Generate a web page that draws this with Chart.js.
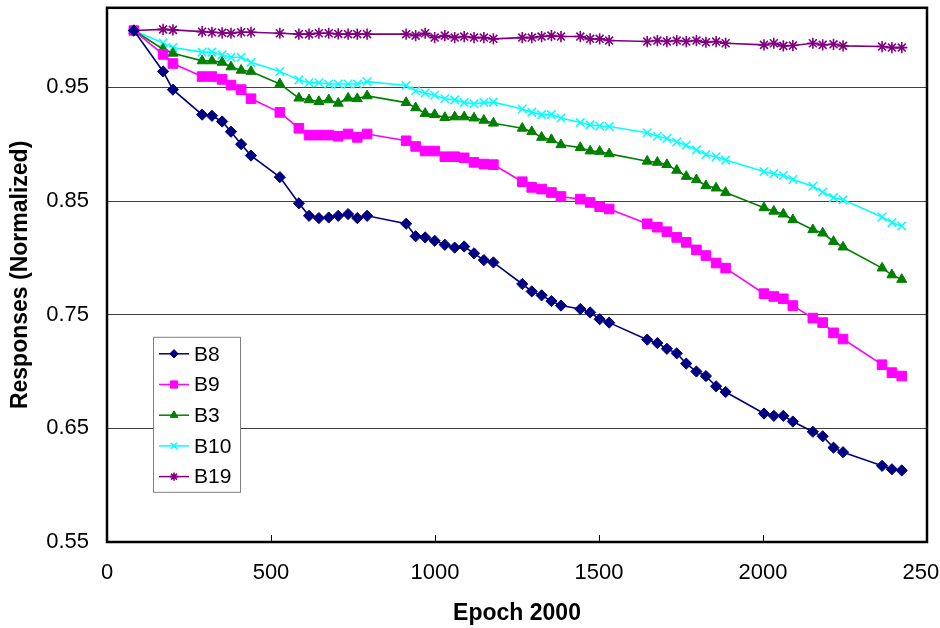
<!DOCTYPE html>
<html>
<head>
<meta charset="utf-8">
<script src="https://cdn.jsdelivr.net/npm/chart.js"></script>
<style>
    html, body { margin: 0; padding: 0; background: #fff; overflow: hidden; }
    #wrap { width: 960px; height: 628px; }
</style>
</head>
<body>
<div id="wrap"><canvas id="chart" width="960" height="628"></canvas></div>
<script>
// Données
const epochs = [82, 171, 201, 290, 320, 351, 378, 409, 439, 527, 585, 616, 646, 676, 705, 735, 763, 793,
    912, 941, 970, 999, 1030, 1060, 1089, 1119, 1149, 1178, 1266, 1295, 1325, 1355, 1384, 1443, 1473, 1502,
    1531, 1647, 1678, 1707, 1737, 1766, 1797, 1826, 1857, 1886, 2003, 2033, 2062, 2091, 2152, 2182, 2215,
    2244, 2363, 2393, 2423];

const b8 = [1.000, 0.964, 0.948, 0.926, 0.925, 0.920, 0.911, 0.900, 0.890, 0.871, 0.848, 0.837, 0.835, 0.8355,
    0.837, 0.8385, 0.835, 0.837, 0.830, 0.819, 0.818, 0.815, 0.8115, 0.809, 0.810, 0.804, 0.798, 0.796, 0.777,
    0.7705, 0.767, 0.762, 0.758, 0.755, 0.752, 0.746, 0.743, 0.728, 0.725, 0.720, 0.716, 0.707, 0.700, 0.696,
    0.687, 0.682, 0.663, 0.661, 0.661, 0.656, 0.647, 0.643, 0.633, 0.629, 0.617, 0.614, 0.613];

const b9 = [1.000, 0.979, 0.971, 0.9595, 0.9595, 0.957, 0.952, 0.948, 0.940, 0.928, 0.914, 0.908, 0.908, 0.908,
    0.907, 0.909, 0.906, 0.909, 0.903, 0.898, 0.894, 0.894, 0.889, 0.889, 0.888, 0.884, 0.8825, 0.882, 0.867,
    0.862, 0.8605, 0.8575, 0.854, 0.8517, 0.8487, 0.845, 0.843, 0.830, 0.827, 0.823, 0.818, 0.8136, 0.807, 0.802,
    0.7955, 0.791, 0.7685, 0.766, 0.764, 0.758, 0.747, 0.743, 0.734, 0.7286, 0.706, 0.699, 0.696];

const b3 = [1.000, 0.9836, 0.980, 0.9733, 0.9733, 0.972, 0.968, 0.965, 0.964, 0.953, 0.9405, 0.939, 0.9375, 0.939,
    0.936, 0.9405, 0.940, 0.9425, 0.9366, 0.932, 0.927, 0.926, 0.9234, 0.924, 0.924, 0.923, 0.921, 0.9185, 0.914,
    0.911, 0.906, 0.904, 0.8995, 0.897, 0.894, 0.8936, 0.8915, 0.885, 0.884, 0.882, 0.877, 0.8716, 0.8687, 0.8634,
    0.8614, 0.8575, 0.844, 0.841, 0.8385, 0.8335, 0.8247, 0.8218, 0.8144, 0.8095, 0.791, 0.785, 0.781];

const b10 = [1.000, 0.989, 0.985, 0.981, 0.981, 0.9786, 0.9765, 0.9765, 0.972, 0.964, 0.9566, 0.954, 0.954, 0.953,
    0.953, 0.953, 0.953, 0.955, 0.9516, 0.947, 0.945, 0.943, 0.940, 0.939, 0.9366, 0.9355, 0.9366, 0.937, 0.931,
    0.928, 0.926, 0.926, 0.923, 0.919, 0.917, 0.916, 0.9155, 0.910, 0.907, 0.905, 0.902, 0.899, 0.895, 0.891,
    0.889, 0.886, 0.876, 0.874, 0.8725, 0.869, 0.863, 0.858, 0.853, 0.851, 0.836, 0.831, 0.828];

const b19 = [1.000, 1.001, 1.0006, 0.999, 0.9985, 0.998, 0.9976, 0.9985, 0.9985, 0.9976, 0.9968, 0.9968, 0.9976,
    0.9976, 0.997, 0.9968, 0.9968, 0.9968, 0.9968, 0.9955, 0.9976, 0.9938, 0.9955, 0.9938, 0.9947, 0.9938, 0.9938,
    0.9927, 0.9938, 0.9938, 0.9947, 0.9955, 0.9947, 0.9947, 0.9927, 0.9927, 0.9912, 0.9903, 0.9912, 0.9903, 0.9912,
    0.9903, 0.9912, 0.9897, 0.9903, 0.9888, 0.9874, 0.9888, 0.9865, 0.9868, 0.9888, 0.9874, 0.9879, 0.9865, 0.9859,
    0.985, 0.985];

const yTicks = [0.55, 0.65, 0.75, 0.85, 0.95];
const xTicks = [0, 500, 1000, 1500, 2000, 2500];

const FONT = "'Liberation Sans', Arial, sans-serif";

// Construire une série
function makeSeries(label, values, color, style, radius, borderWidth) {
    return {
        label: label,
        data: values.map((v, i) => ({ x: epochs[i], y: v })),
        borderColor: color,
        backgroundColor: color,
        pointBackgroundColor: color,
        pointBorderColor: color,
        pointStyle: style,
        pointRadius: radius,
        pointBorderWidth: borderWidth,
        borderWidth: 1.6,
        tension: 0,
        fill: false
    };
}

// Cadre + petites graduations internes
const frame = {
    id: 'frame',
    afterDatasetsDraw(chart) {
        const { ctx, chartArea: a, scales } = chart;
        ctx.save();
        ctx.strokeStyle = '#000';
        ctx.lineWidth = 1;
        xTicks.forEach(v => {
            const px = Math.round(scales.x.getPixelForValue(v)) + 0.5;
            ctx.beginPath();
            ctx.moveTo(px, a.bottom);
            ctx.lineTo(px, a.bottom - 7);
            ctx.stroke();
        });
        ctx.lineWidth = 2.5;
        ctx.strokeRect(a.left, a.top, a.right - a.left, a.bottom - a.top);
        ctx.restore();
    }
};

// Légende à l'intérieur de la zone du graphique
const innerLegend = {
    id: 'innerLegend',
    afterDraw(chart) {
        const { ctx, chartArea: a } = chart;
        const x0 = a.left + 46, y0 = a.top + 329;
        ctx.save();
        ctx.fillStyle = '#fff';
        ctx.fillRect(x0, y0, 87, 155);
        ctx.strokeStyle = '#808080';
        ctx.lineWidth = 1;
        ctx.strokeRect(x0 + 0.5, y0 + 0.5, 87, 155);
        ctx.font = '21px ' + FONT;
        ctx.textBaseline = 'middle';
        chart.data.datasets.forEach((ds, i) => {
            const y = y0 + 17 + i * 30.7;
            ctx.strokeStyle = ds.borderColor;
            ctx.fillStyle = ds.borderColor;
            ctx.lineWidth = 1.5;
            ctx.beginPath();
            ctx.moveTo(x0 + 6, y);
            ctx.lineTo(x0 + 36, y);
            ctx.stroke();
            ctx.lineWidth = ds.pointBorderWidth;
            if (Chart.helpers && Chart.helpers.drawPoint) {
                Chart.helpers.drawPoint(ctx, {
                    pointStyle: ds.pointStyle,
                    radius: ds.pointRadius * 0.75,
                    borderWidth: ds.pointBorderWidth,
                    rotation: 0
                }, x0 + 21, y);
            }
            ctx.fillStyle = '#000';
            ctx.fillText(ds.label, x0 + 41, y + 1);
        });
        ctx.restore();
    }
};

new Chart(document.getElementById('chart'), {
    type: 'line',
    data: {
        datasets: [
            makeSeries('B8', b8, '#000080', 'rectRot', 5.6, 1),
            makeSeries('B9', b9, '#FF00FF', 'rect', 6.8, 1),
            makeSeries('B3', b3, '#008000', 'triangle', 5.8, 1),
            makeSeries('B10', b10, '#00FFFF', 'crossRot', 6, 1.5),
            makeSeries('B19', b19, '#800080', 'star', 5.6, 1.6)
        ]
    },
    options: {
        responsive: false,
        animation: false,
        devicePixelRatio: 1,
        layout: { padding: { left: 0, top: 7, right: 33, bottom: 0 } },
        plugins: {
            legend: { display: false },
            tooltip: { enabled: false }
        },
        scales: {
            x: {
                type: 'linear',
                min: 0,
                max: 2500,
                afterBuildTicks: s => { s.ticks = xTicks.map(v => ({ value: v })); },
                afterFit: s => { s.height = 86; s.paddingLeft = 0; s.paddingRight = 0; },
                grid: { display: false, drawTicks: false },
                border: { display: false },
                ticks: {
                    color: '#000',
                    padding: 18,
                    maxRotation: 0,
                    font: { family: FONT, size: 22 },
                    callback: v => String(v)
                },
                title: {
                    display: true,
                    text: 'Epoch 2000',
                    color: '#000',
                    font: { family: FONT, size: 23, weight: 'bold' },
                    padding: { top: 0, bottom: 1 }
                }
            },
            y: {
                min: 0.55,
                max: 1.02,
                afterBuildTicks: s => { s.ticks = yTicks.map(v => ({ value: v })); },
                afterFit: s => { s.width = 107; s.paddingTop = 0; s.paddingBottom = 0; },
                grid: { color: '#404040', lineWidth: 1, drawTicks: false },
                border: { display: false },
                ticks: {
                    color: '#000',
                    padding: 18,
                    font: { family: FONT, size: 22 },
                    callback: v => v.toFixed(2)
                },
                title: {
                    display: true,
                    text: 'Responses (Normalized)',
                    color: '#000',
                    font: { family: FONT, size: 23, weight: 'bold' },
                    padding: { top: 7, bottom: 0 }
                }
            }
        }
    },
    plugins: [frame, innerLegend]
});
</script>
</body>
</html>
